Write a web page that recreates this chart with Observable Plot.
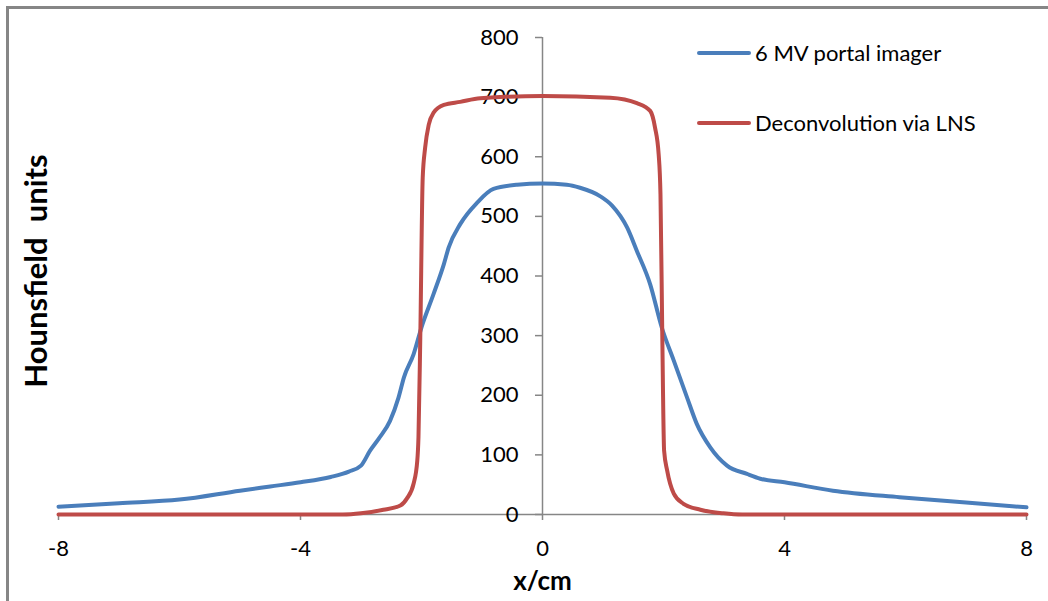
<!DOCTYPE html>
<html>
<head>
<meta charset="utf-8">
<script src="https://cdn.jsdelivr.net/npm/d3@7"></script>
<script src="https://cdn.jsdelivr.net/npm/@observablehq/plot@0.6"></script>
<style>
  html, body { margin: 0; padding: 0; background: white; }
  #wrap { position: relative; width: 1048px; height: 601px; overflow: hidden; font-family: Lato, "Open Sans", sans-serif; }
  #frame { position: absolute; left: 6px; top: 6px; width: 1100px; height: 700px; border-left: 3px solid #868686; border-top: 3px solid #868686; pointer-events: none; }
  .leg { position: absolute; left: 697px; display: flex; align-items: center; font-size: 22px; line-height: 26px; color: #000; }
  .leg .sw { width: 54px; height: 4px; margin-right: 4px; border-radius: 2px; }
</style>
</head>
<body>
<div id="wrap">
  <div id="chart"></div>
  <div id="legend"></div>
  <div id="frame"></div>
</div>
<script>
const xTicks = [-8, -4, 0, 4, 8];
const yTicks = [0, 100, 200, 300, 400, 500, 600, 700, 800];
const seriesNames = ["6 MV portal imager", "Deconvolution via LNS"];
const seriesColors = ["#4a7ebb", "#be4b48"];
const xLabel = "x/cm";
const yLabel = "Hounsfield  units";

// 6 MV portal imager profile
const portalX = [-8, -7, -6, -5, -4.5, -4, -3.5, -3.2, -3.0, -2.85, -2.7, -2.52, -2.38, -2.29, -2.13, -2.0, -1.8, -1.63, -1.55, -1.36, -1.08, -0.81, -0.42, 0, 0.4, 0.62, 0.95, 1.15, 1.4, 1.56, 1.78, 1.97, 2.17, 2.39, 2.55, 2.77, 3.05, 3.38, 3.6, 4.0, 4.8, 5.9, 7, 8];
const portalY = [13, 19, 25, 40, 47, 54, 63, 72, 82, 107, 128, 157, 196, 230, 269, 314, 370, 420, 448, 487, 523, 546, 553, 555, 553, 548, 534, 518, 481, 442, 386, 314, 258, 196, 152, 113, 82, 68, 60, 54, 40, 29, 20, 12];

// Deconvolution via LNS profile
const lnsX = [-8, -3.3, -3.0, -2.63, -2.35, -2.24, -2.13, -2.07, -2.05, -2.02, -1.98, -1.94, -1.88, -1.80, -1.63, -1.36, -1.03, 0, 1.12, 1.56, 1.78, 1.86, 1.92, 1.95, 1.98, 2.01, 2.06, 2.17, 2.33, 2.61, 2.99, 3.3, 8];
const lnsY = [0, 0, 2, 8, 15, 27, 52, 90, 130, 297, 565, 615, 654, 674, 687, 692, 698, 702, 699, 690, 677, 649, 604, 537, 300, 107, 74, 35, 18, 8, 2, 0, 0];

const data = [
  ...portalX.map((x, i) => ({x, y: portalY[i], s: seriesNames[0]})),
  ...lnsX.map((x, i) => ({x, y: lnsY[i], s: seriesNames[1]}))
];

const axisColor = "#868686";

const plot = Plot.plot({
  width: 1048,
  height: 601,
  marginLeft: 58,
  marginRight: 22,
  marginTop: 37,
  marginBottom: 87,
  style: {fontFamily: "Lato, 'Open Sans', sans-serif", fontSize: "22px", background: "transparent"},
  x: {domain: [-8, 8], axis: null},
  y: {domain: [0, 800], axis: null},
  color: {domain: seriesNames, range: seriesColors},
  marks: [
    // axis lines through the origin
    Plot.ruleY([0], {x1: -8, x2: 8, stroke: axisColor, strokeWidth: 1.5}),
    Plot.ruleX([0], {y1: 0, y2: 800, stroke: axisColor, strokeWidth: 1.5}),
    // tick marks
    Plot.ruleY(yTicks, {y: d => d, x1: 0, x2: 0, insetLeft: -7, stroke: axisColor, strokeWidth: 1.5}),
    Plot.ruleX(xTicks, {x: d => d, y1: 0, y2: 0, insetBottom: -6, stroke: axisColor, strokeWidth: 1.5}),
    // tick labels
    Plot.text(yTicks, {x: 0, y: d => d, text: d => String(d), textAnchor: "end", dx: -24, fontSize: 22, fill: "#000"}),
    Plot.text(xTicks, {x: d => d, y: 0, text: d => String(d), dy: 34, fontSize: 22, fill: "#000"}),
    // axis titles
    Plot.text([yLabel], {frameAnchor: "left", text: d => d, rotate: -90, textAnchor: "middle", lineAnchor: "middle", dx: -21, dy: -5, fontSize: 31, fontWeight: "bold", fill: "#000"}),
    Plot.text([xLabel], {frameAnchor: "bottom", text: d => d, lineAnchor: "middle", dy: 67, fontSize: 26, fontWeight: "bold", fill: "#000"}),
    // series
    Plot.line(data, {x: "x", y: "y", z: "s", stroke: "s", strokeWidth: 4, curve: "monotone-x", strokeLinejoin: "round", strokeLinecap: "round"})
  ]
});
document.getElementById("chart").appendChild(plot);

const legend = document.getElementById("legend");
const legTops = [40, 110];
seriesNames.forEach((name, i) => {
  const row = document.createElement("div");
  row.className = "leg";
  row.style.top = legTops[i] + "px";
  const sw = document.createElement("span");
  sw.className = "sw";
  sw.style.background = seriesColors[i];
  const t = document.createElement("span");
  t.textContent = name;
  row.appendChild(sw);
  row.appendChild(t);
  legend.appendChild(row);
});
</script>
</body>
</html>
